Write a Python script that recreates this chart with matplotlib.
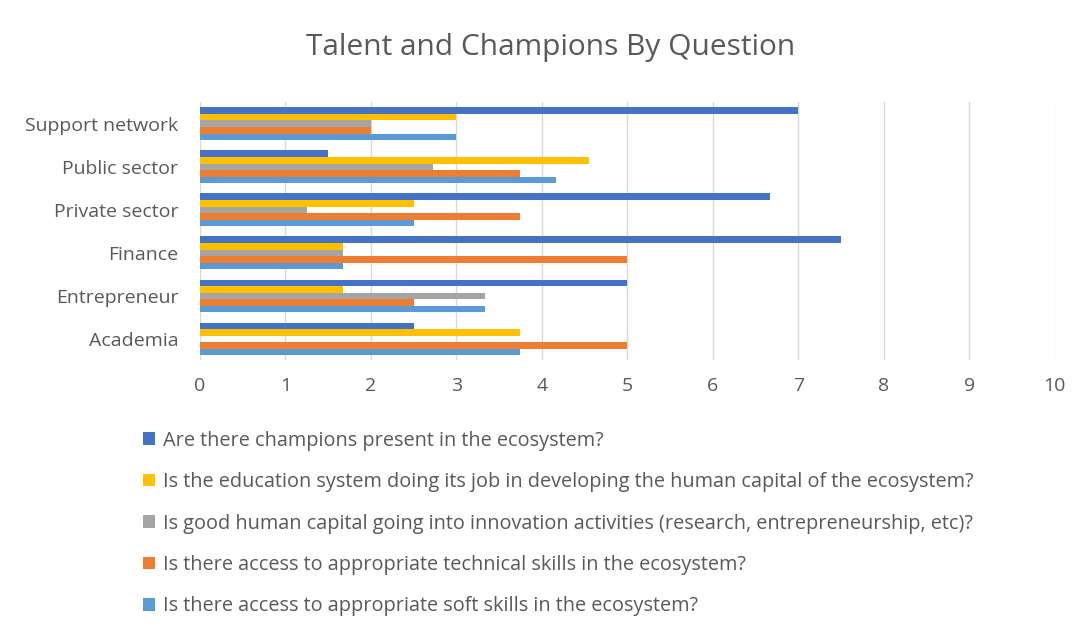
import numpy as np
import matplotlib
matplotlib.use("Agg")
import matplotlib.pyplot as plt

matplotlib.rcParams['font.family'] = ['Open Sans', 'DejaVu Sans']

categories = ["Academia", "Entrepreneur", "Finance", "Private sector", "Public sector", "Support network"]
series_names = [
    "Are there champions present in the ecosystem?",
    "Is the education system doing its job in developing the human capital of the ecosystem?",
    "Is good human capital going into innovation activities (research, entrepreneurship, etc)?",
    "Is there access to appropriate technical skills in the ecosystem?",
    "Is there access to appropriate soft skills in the ecosystem?",
]
champions = [2.5, 5.0, 7.5, 6.67, 1.5, 7.0]
education = [3.75, 1.67, 1.67, 2.5, 4.55, 3.0]
human_capital = [0.0, 3.33, 1.67, 1.25, 2.73, 2.0]
technical = [5.0, 2.5, 5.0, 3.75, 3.75, 2.0]
soft = [3.75, 3.33, 1.67, 2.5, 4.17, 3.0]
colours = ['#4472c4', '#ffc000', '#a5a5a5', '#ed7d31', '#5b9bd5']

grey = '#595959'
fig = plt.figure(figsize=(10.92, 6.39), dpi=100)
ax = fig.add_axes([0.183, 0.436, 0.783, 0.404])

y = np.arange(len(categories))
h = 0.152
all_vals = [champions, education, human_capital, technical, soft]
for i, vals in enumerate(all_vals):
    ax.barh(y + (2 - i) * h, vals, height=h, color=colours[i], label=series_names[i], zorder=3)

ax.set_xlim(0, 10)
ax.set_xticks(range(0, 11))
ax.set_ylim(-0.5, 5.5)
ax.set_yticks(y)
ax.set_yticklabels(categories)
ax.tick_params(axis='both', length=0, colors=grey, labelsize=14)
ax.tick_params(axis='x', pad=12)
ax.tick_params(axis='y', pad=15.5)
ax.grid(axis='x', color='#d9d9d9', linewidth=1, zorder=0)
for s in ax.spines.values():
    s.set_visible(False)

fig.text(0.504, 0.925, "Talent and Champions By Question", ha='center', va='center',
         fontsize=21.5, color=grey)

leg = fig.legend(loc='upper left', bbox_to_anchor=(0.115, 0.354), frameon=False,
                 fontsize=14.3, labelcolor=grey, handlelength=0.6, handleheight=0.6,
                 handletextpad=0.4, labelspacing=1.08)

fig.savefig("out.png", dpi=100)
